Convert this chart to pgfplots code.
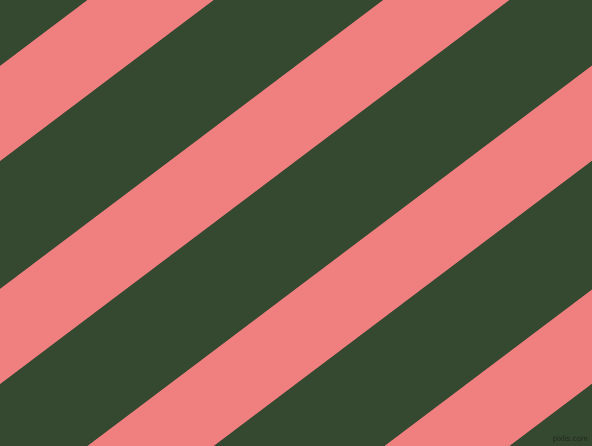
\documentclass[border=0pt]{standalone}
\usepackage{pgfplots}
\pgfplotsset{compat=1.18}
\usepackage{fontspec}
\setmainfont{Liberation Sans}
\definecolor{forest}{HTML}{354830}
\definecolor{coral}{HTML}{F08080}
\begin{document}
\begin{tikzpicture}
\begin{axis}[
    scale only axis,
    width=592pt, height=446pt,
    xmin=0, xmax=592,
    ymin=0, ymax=446,
    y dir=reverse,
    hide axis,
    clip=true,
]
% background
\addplot[draw=none, fill=forest] coordinates {(0,0)(592,0)(592,446)(0,446)} --cycle;
% pink stripes, boundaries y = c - 0.754 x
\addplot[draw=none, fill=coral] coordinates {(0,66)(0,161)(592,-285.4)(592,-380.4)} --cycle;
\addplot[draw=none, fill=coral] coordinates {(0,289)(0,384)(592,-62.4)(592,-157.4)} --cycle;
\addplot[draw=none, fill=coral] coordinates {(0,512)(0,607)(592,160.6)(592,65.6)} --cycle;
\addplot[draw=none, fill=coral] coordinates {(0,736)(0,830)(592,383.6)(592,289.6)} --cycle;
\node[anchor=south east, font=\fontsize{8}{9}\selectfont, text=forest!60!black, inner sep=2pt] at (axis cs:590,445) {pixlis.com};
\end{axis}
\end{tikzpicture}
\end{document}
